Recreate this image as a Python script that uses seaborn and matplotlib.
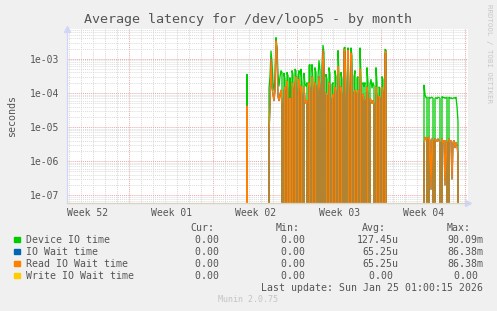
import numpy as np
import pandas as pd
import matplotlib
matplotlib.use("Agg")
import matplotlib.pyplot as plt
from matplotlib.patches import Rectangle
import seaborn as sns

# ---------------- data ----------------
step_h = 2                      # rrd month resolution: 2 hours per sample
seg_start_h = [358, 402, 712]   # hours since graph start for each data burst

device_seg_a = [0, 3.5e-4, 0]
device_seg_b = [
    0, 1.4e-4, 3e-4, 1.7e-3, 8e-4, 2e-4, 1.2e-4, 2.5e-4, 4.2e-3, 2.2e-3,
    3.5e-4, 1.6e-4, 3e-4, 4.5e-4, 4e-4, 0, 3.8e-4, 2.5e-4, 0, 4e-4,
    3.2e-4, 0, 2.8e-4, 0, 4.5e-4, 3.5e-4, 0, 5e-4, 4.5e-4, 0,
    3e-4, 4.5e-4, 0, 5e-4, 2e-4, 0, 3.8e-4, 1.8e-4, 1.6e-4, 2e-4,
    0, 6.5e-4, 6.8e-4, 0, 6.8e-4, 2.5e-4, 0, 5.5e-4, 4e-4, 0,
    3e-4, 8.9e-4, 4.5e-4, 0, 6e-4, 2.5e-3, 1.5e-3, 0, 3.5e-4, 2.5e-4,
    0, 5.5e-4, 3.5e-4, 0, 1.8e-4, 2e-4, 0, 4.5e-4, 3e-4, 0,
    1.75e-3, 3.5e-4, 0, 4e-4, 2.5e-4, 0, 2.1e-3, 2.2e-3, 2e-4, 0,
    2.1e-3, 1.2e-4, 0, 2.1e-3, 1.2e-3, 0, 3e-4, 4.5e-4, 0, 2.8e-4,
    3e-4, 0, 2.1e-3, 3e-4, 0, 2e-4, 1.6e-4, 2e-4, 0, 5.5e-4,
    2e-4, 0, 1.8e-4, 2.5e-4, 1.4e-4, 2e-4, 1.6e-4, 0, 5.5e-4, 2e-4,
    0, 1.5e-4, 1.4e-4, 0, 3e-4, 2.5e-4, 0, 1.9e-3, 1.8e-3, 0,
]
device_seg_c = [
    0, 1.7e-4, 9e-5, 7.3e-5, 7.5e-5, 0, 7.5e-5, 7e-5, 7.3e-5, 7.5e-5,
    7e-5, 0, 7e-5, 7.3e-5, 6.8e-5, 7.5e-5, 7.3e-5, 7e-5, 0, 7.8e-5,
    7.3e-5, 7.5e-5, 7e-5, 7.3e-5, 7.5e-5, 0, 7.5e-5, 7e-5, 7.3e-5, 6.8e-5,
    7e-5, 7.3e-5, 7e-5, 7.5e-5, 4e-5, 1.5e-5, 0,
]

read_wait_seg_a = [0, 4.2e-5, 0]
read_wait_seg_b = [
    0, 6.8e-6, 4e-5, 1e-3, 1.5e-4, 9e-5, 6e-5, 1.2e-4, 3.4e-3, 1.6e-3,
    8e-5, 6e-5, 9e-5, 1.2e-4, 4e-5, 0, 1.1e-4, 1.5e-4, 0, 2.2e-4,
    1e-4, 0, 7e-5, 0, 2e-4, 1.2e-4, 0, 1.5e-4, 3e-4, 0,
    8e-5, 2.5e-4, 0, 1.6e-4, 7e-5, 0, 1.5e-4, 6e-5, 5e-5, 6e-5,
    0, 2e-4, 1.2e-4, 0, 3e-4, 9e-5, 0, 2e-4, 1.5e-4, 0,
    1e-4, 3e-4, 1.2e-4, 0, 2e-4, 1.8e-3, 5e-4, 0, 1e-4, 8e-5,
    0, 2e-4, 1.6e-4, 0, 6e-5, 9e-5, 0, 1.5e-4, 1e-4, 0,
    6e-4, 1.2e-4, 0, 1.5e-4, 8e-5, 0, 1.9e-3, 1.5e-3, 5e-5, 0,
    1.8e-3, 7e-5, 0, 1.5e-3, 3e-4, 0, 1e-4, 1.2e-4, 0, 9e-5,
    1.2e-4, 0, 5e-4, 1e-4, 0, 9e-5, 7e-5, 6e-5, 0, 1.5e-4,
    8e-5, 0, 7e-5, 6e-5, 5e-5, 6e-5, 4.5e-5, 0, 1.5e-4, 6e-5,
    0, 8e-5, 7e-5, 0, 1.5e-4, 1e-4, 0, 1.3e-3, 1.7e-3, 0,
]
read_wait_seg_c = [
    0, 3e-6, 5e-6, 4.5e-6, 4.8e-6, 0, 5e-6, 4e-6, 1.5e-7, 4.5e-6,
    4e-6, 0, 4.5e-6, 4.2e-6, 3.8e-6, 4.5e-6, 4e-6, 3.5e-6, 0, 4.5e-6,
    3.5e-6, 4e-6, 2e-7, 4e-6, 3.5e-6, 0, 4.5e-6, 3.8e-6, 4e-6, 3e-7,
    3.5e-6, 4e-6, 2.5e-6, 3.5e-6, 3e-6, 1.5e-6, 0,
]
# IO Wait time is identical to Read IO Wait time; Write IO Wait time is 0
io_wait_segs = [read_wait_seg_a, read_wait_seg_b, read_wait_seg_c]
write_wait_value = 0.0

series_names = ["Device IO time", "IO Wait time", "Read IO Wait time", "Write IO Wait time"]
series_colors = ["#00CC00", "#0066B3", "#FF8000", "#FFCC00"]
stat_cur = ["0.00", "0.00", "0.00", "0.00"]
stat_min = ["0.00", "0.00", "0.00", "0.00"]
stat_avg = ["127.45u", "65.25u", "65.25u", "0.00 "]
stat_max = ["90.09m", "86.38m", "86.38m", "0.00 "]
week_labels = ["Week 52", "Week 01", "Week 02", "Week 03", "Week 04"]
ytick_vals = [1e-7, 1e-6, 1e-5, 1e-4, 1e-3]
ytick_labels = ["1e-07", "1e-06", "1e-05", "1e-04", "1e-03"]

# ---------------- build frames ----------------
def build(segs):
    t, v = [], []
    for s0, seg in zip(seg_start_h, segs):
        t.extend(s0 + step_h * np.arange(len(seg)))
        v.extend(seg)
    return pd.DataFrame({"hours": t, "value": v})

df_dev = build([device_seg_a, device_seg_b, device_seg_c])
df_io = build(io_wait_segs)
df_read = build([read_wait_seg_a, read_wait_seg_b, read_wait_seg_c])

# ---------------- layout ----------------
W, H = 497, 311
x_span_h = 802.0
first_week_line_h = 124.6
y_lo, y_hi = 6.05e-8, 7.8e-3

sns.set_style("white")
plt.rcParams["font.family"] = ["DejaVu Sans Mono", "DejaVu Sans"]
txt = "#555555"

fig = plt.figure(figsize=(W / 100, H / 100), dpi=100, facecolor="#F0F0F0")
ax = fig.add_axes([67 / W, 1 - 202.7 / H, (468 - 67) / W, (202.7 - 28.5) / H])
ax.set_facecolor("white")

lw = 0.95
sns.lineplot(data=df_dev, x="hours", y="value", ax=ax, color=series_colors[0],
             lw=lw, estimator=None, legend=False)
sns.lineplot(data=df_io, x="hours", y="value", ax=ax, color=series_colors[1],
             lw=lw, estimator=None, legend=False)
sns.lineplot(data=df_read, x="hours", y="value", ax=ax, color=series_colors[2],
             lw=lw, estimator=None, legend=False)
ax.set_yscale("log", nonpositive="clip")
ax.set_xlim(0, x_span_h)
ax.set_ylim(y_lo, y_hi)

# write series is zero -> drawn at the floor of the log axis
ax.plot([0, x_span_h], [max(write_wait_value, y_lo)] * 2, color=series_colors[3],
        lw=1.0, alpha=0.22, clip_on=False, zorder=5)

# grid
dash = (0, (1, 1))
week_lines = [first_week_line_h + 168 * k for k in range(5)]
day_lines = [d for d in np.arange(first_week_line_h - 24 * 5, x_span_h, 24) if d > 0]
for d in day_lines:
    if all(abs(d - w) > 1 for w in week_lines):
        ax.axvline(d, color="#D8D8D8", lw=0.7, ls=dash, zorder=0)
for w in week_lines:
    ax.axvline(w, color="#E8A8A8", lw=0.7, ls=dash, zorder=0)
for dec in [1e-8, 1e-7, 1e-6, 1e-5, 1e-4, 1e-3]:
    for m in range(2, 10):
        yv = dec * m
        if y_lo < yv < y_hi:
            ax.axhline(yv, color="#DCDCDC", lw=0.7, ls=dash, zorder=0)
for yv in ytick_vals:
    ax.axhline(yv, color="#E8A8A8", lw=0.7, ls=dash, zorder=0)

# ticks
ax.set_yticks(ytick_vals)
ax.set_yticklabels(ytick_labels)
ax.yaxis.set_minor_locator(matplotlib.ticker.NullLocator())
ax.set_xticks([w - 84 for w in week_lines])
ax.set_xticklabels(week_labels)
ax.tick_params(axis="both", length=0, labelsize=7, labelcolor=txt)
ax.tick_params(axis="y", pad=5.5)
ax.tick_params(axis="x", pad=3.5)
ax.set_xlabel("")
ax.set_ylabel("seconds", fontsize=7.2, color=txt, labelpad=9)

for side in ["top", "right"]:
    ax.spines[side].set_visible(False)
for side in ["left", "bottom"]:
    ax.spines[side].set_color("#CFD6F8")
    ax.spines[side].set_linewidth(0.9)

# axis arrows
ax.plot([0], [1.0], marker="^", ms=4, color="#CFD6F8", transform=ax.transAxes, clip_on=False)
ax.plot([1.0], [0], marker=">", ms=4, color="#CFD6F8", transform=ax.transAxes, clip_on=False)

def fx(x):
    return x / W

def fy(y):
    return 1 - y / H

fig.text(fx(248), fy(19), "Average latency for /dev/loop5 - by month",
         ha="center", va="center", fontsize=9.6, color=txt)
fig.text(fx(488.5), fy(4), "RRDTOOL / TOBI OETIKER", rotation=270,
         ha="center", va="top", fontsize=5.3, color="#C8C8C8")

# legend block
cw = 5.95
fs = 7.1
hdr_y = 228.3
fig.text(fx(190), fy(hdr_y), "Cur:", ha="left", va="center", fontsize=fs, color=txt)
fig.text(fx(275.7), fy(hdr_y), "Min:", ha="left", va="center", fontsize=fs, color=txt)
fig.text(fx(361.7), fy(hdr_y), "Avg:", ha="left", va="center", fontsize=fs, color=txt)
fig.text(fx(446.7), fy(hdr_y), "Max:", ha="left", va="center", fontsize=fs, color=txt)

col_right = [225.2, 311.0, 398.3, 483.3]
row_y = [239.7, 251.7, 263.7, 275.7]
for i, name in enumerate(series_names):
    y = row_y[i]
    fig.patches.append(Rectangle((fx(14), fy(y + 2.7)), 5.5 / W, 5.5 / H,
                                 transform=fig.transFigure, color=series_colors[i]))
    fig.text(fx(26.3), fy(y), name, ha="left", va="center", fontsize=fs, color=txt)
    cols = [stat_cur[i] + " ", stat_min[i] + " ", stat_avg[i], stat_max[i]]
    for r, s in zip(col_right, cols):
        s_full = s if s.endswith((" ", "u", "m")) else s + " "
        fig.text(fx(r - len(s_full) * cw), fy(y), s_full, ha="left", va="center",
                 fontsize=fs, color=txt)

fig.text(fx(483), fy(287.7), "Last update: Sun Jan 25 01:00:15 2026",
         ha="right", va="center", fontsize=fs, color=txt)
fig.text(fx(247.5), fy(300), "Munin 2.0.75", ha="center", va="center",
         fontsize=6, color="#C4C4C4")

fig.savefig("out.png", dpi=100, facecolor=fig.get_facecolor())
